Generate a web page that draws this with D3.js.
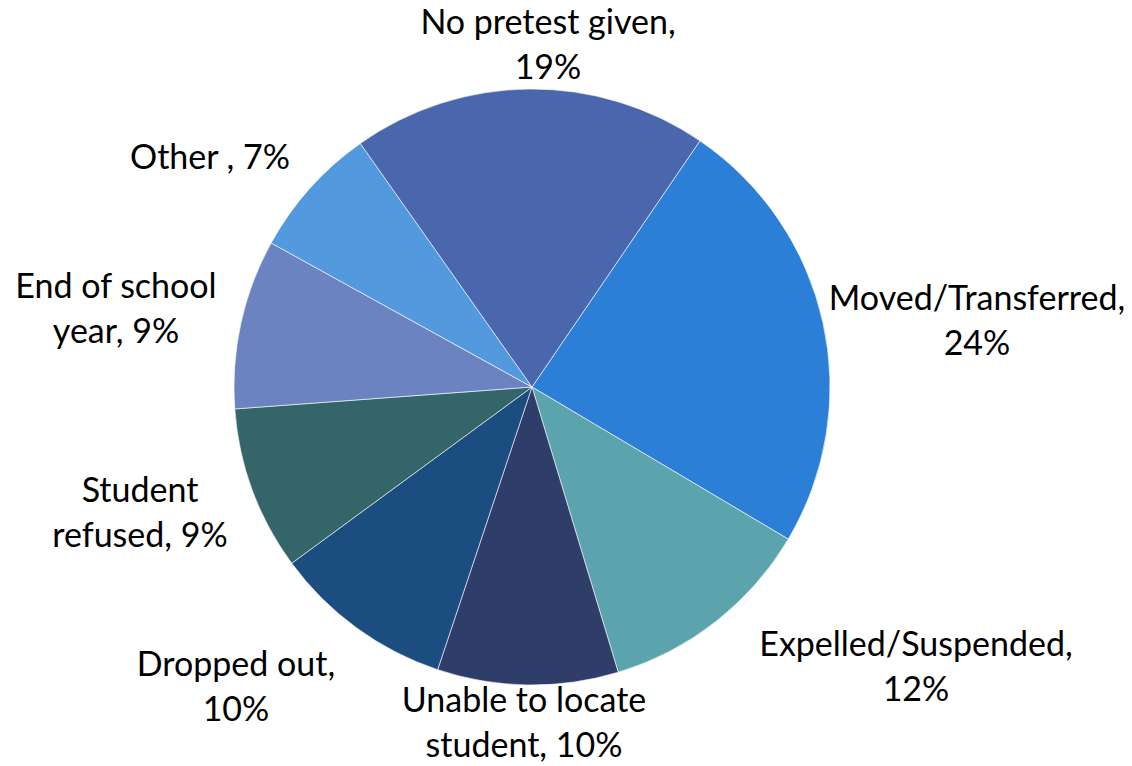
<!DOCTYPE html>
<html>
<head>
<meta charset="utf-8">
<script src="https://cdn.jsdelivr.net/npm/d3@7"></script>
<style>
  body { margin: 0; background: #fff; }
  svg text { font-family: Lato, "Open Sans", sans-serif; font-size: 34px; fill: #000; }
</style>
</head>
<body>
<div id="chart"></div>
<script>
var width = 1132,
    height = 766,
    cx = 532,
    cy = 387,
    radius = 298,
    startDeg = 34.3;

// slices clockwise, starting just right of the top
var categories = ["Moved/Transferred", "Expelled/Suspended", "Unable to locate student",
                  "Dropped out", "Student refused", "End of school year", "Other ", "No pretest given"];
var values = [24.0, 11.8, 9.8, 9.8, 8.9, 9.2, 7.2, 19.3];
var labelLines = [
  ["Moved/Transferred,", "24%"],
  ["Expelled/Suspended,", "12%"],
  ["Unable to locate", "student, 10%"],
  ["Dropped out,", "10%"],
  ["Student", "refused, 9%"],
  ["End of school", "year, 9%"],
  ["Other , 7%"],
  ["No pretest given,", "19%"]
];
var colors = ["#2b7fd6", "#5ba4ae", "#2e3e69", "#1c4d80", "#336569", "#6b83c1", "#5399dd", "#4a67ae"];

// where Excel put each label (centre x, first baseline y)
var labelAt = [[977, 310], [916, 656], [524, 712], [236, 676], [140, 502], [116, 298], [210, 169], [548, 34]];
var lineGap = 45;

var svg = d3.select("#chart").append("svg")
  .attr("width", width)
  .attr("height", height);

var pie = d3.pie()
  .sort(null)
  .value(function(d) { return d; })
  .startAngle(startDeg * Math.PI / 180)
  .endAngle(startDeg * Math.PI / 180 + 2 * Math.PI);

var arc = d3.arc()
  .innerRadius(0)
  .outerRadius(radius);

var g = svg.append("g")
  .attr("transform", "translate(" + cx + "," + cy + ")");

g.selectAll("path")
  .data(pie(values))
  .enter().append("path")
  .attr("d", arc)
  .attr("fill", function(d, i) { return colors[i]; })
  .attr("stroke", "#fff")
  .attr("stroke-width", 0.6);

var labels = svg.selectAll("text.lbl")
  .data(labelLines)
  .enter().append("text")
  .attr("class", "lbl")
  .attr("text-anchor", "middle");

labels.each(function(lines, i) {
  var t = d3.select(this);
  lines.forEach(function(line, j) {
    t.append("tspan")
      .attr("x", labelAt[i][0])
      .attr("y", labelAt[i][1] + j * lineGap)
      .text(line);
  });
});
</script>
</body>
</html>
